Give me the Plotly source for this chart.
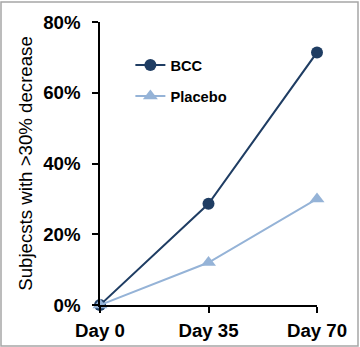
import plotly.graph_objects as go

# Visit days and share of subjects with a >30% decrease
days = [0, 35, 70]
day_labels = ["Day 0", "Day 35", "Day 70"]
bcc = [0.0, 28.6, 71.4]
placebo = [0.0, 12.0, 30.0]
y_ticks = [0, 20, 40, 60, 80]
y_tick_labels = ["0%", "20%", "40%", "60%", "80%"]

fig = go.Figure()
fig.add_trace(go.Scatter(
    x=days, y=bcc, name="BCC", mode="lines+markers",
    line=dict(color="#1F3D63", width=2),
    marker=dict(symbol="circle", size=12, color="#1F3D63"),
    cliponaxis=False, legendgroup="a",
))
fig.add_trace(go.Scatter(
    x=days, y=placebo, name="Placebo", mode="lines+markers",
    line=dict(color="#95B3D7", width=2),
    marker=dict(symbol="triangle-up", size=13, color="#95B3D7"),
    cliponaxis=False, legendgroup="b",
))

fig.update_layout(
    width=360, height=347,
    margin=dict(l=100, r=43, t=22, b=42, autoexpand=False),
    paper_bgcolor="white", plot_bgcolor="white",
    font=dict(family="Liberation Sans, Arial, sans-serif", color="black"),
    showlegend=True,
    legend=dict(
        x=0.14, y=0.905, xanchor="left", yanchor="top",
        font=dict(size=14.67, weight="bold"),
        traceorder="grouped", tracegroupgap=9,
        bgcolor="rgba(0,0,0,0)",
    ),
    shapes=[dict(
        type="rect", xref="paper", yref="paper",
        x0=-99 / 217, x1=258 / 217, y0=-41 / 283, y1=303 / 283,
        line=dict(color="#A6A6A6", width=1.5), fillcolor="rgba(0,0,0,0)",
    )],
)

fig.update_xaxes(
    range=[0, 70], tickvals=days, ticktext=day_labels,
    showline=True, linecolor="black", linewidth=1.5,
    ticks="outside", ticklen=6, tickwidth=1.5, tickcolor="black",
    showgrid=False, zeroline=False, automargin=False,
    tickfont=dict(size=18.67, weight="bold"), ticklabelstandoff=2,
)
fig.update_yaxes(
    range=[0, 80], tickvals=y_ticks, ticktext=y_tick_labels,
    showline=True, linecolor="black", linewidth=1.5,
    ticks="outside", ticklen=6, tickwidth=1.5, tickcolor="black",
    showgrid=False, zeroline=False, automargin=False,
    tickfont=dict(size=18.67, weight="bold"), ticklabelstandoff=8,
    title=dict(text="Subjecsts with >30% decrease", font=dict(size=18.67), standoff=6),
)

fig.write_html("out.html")
